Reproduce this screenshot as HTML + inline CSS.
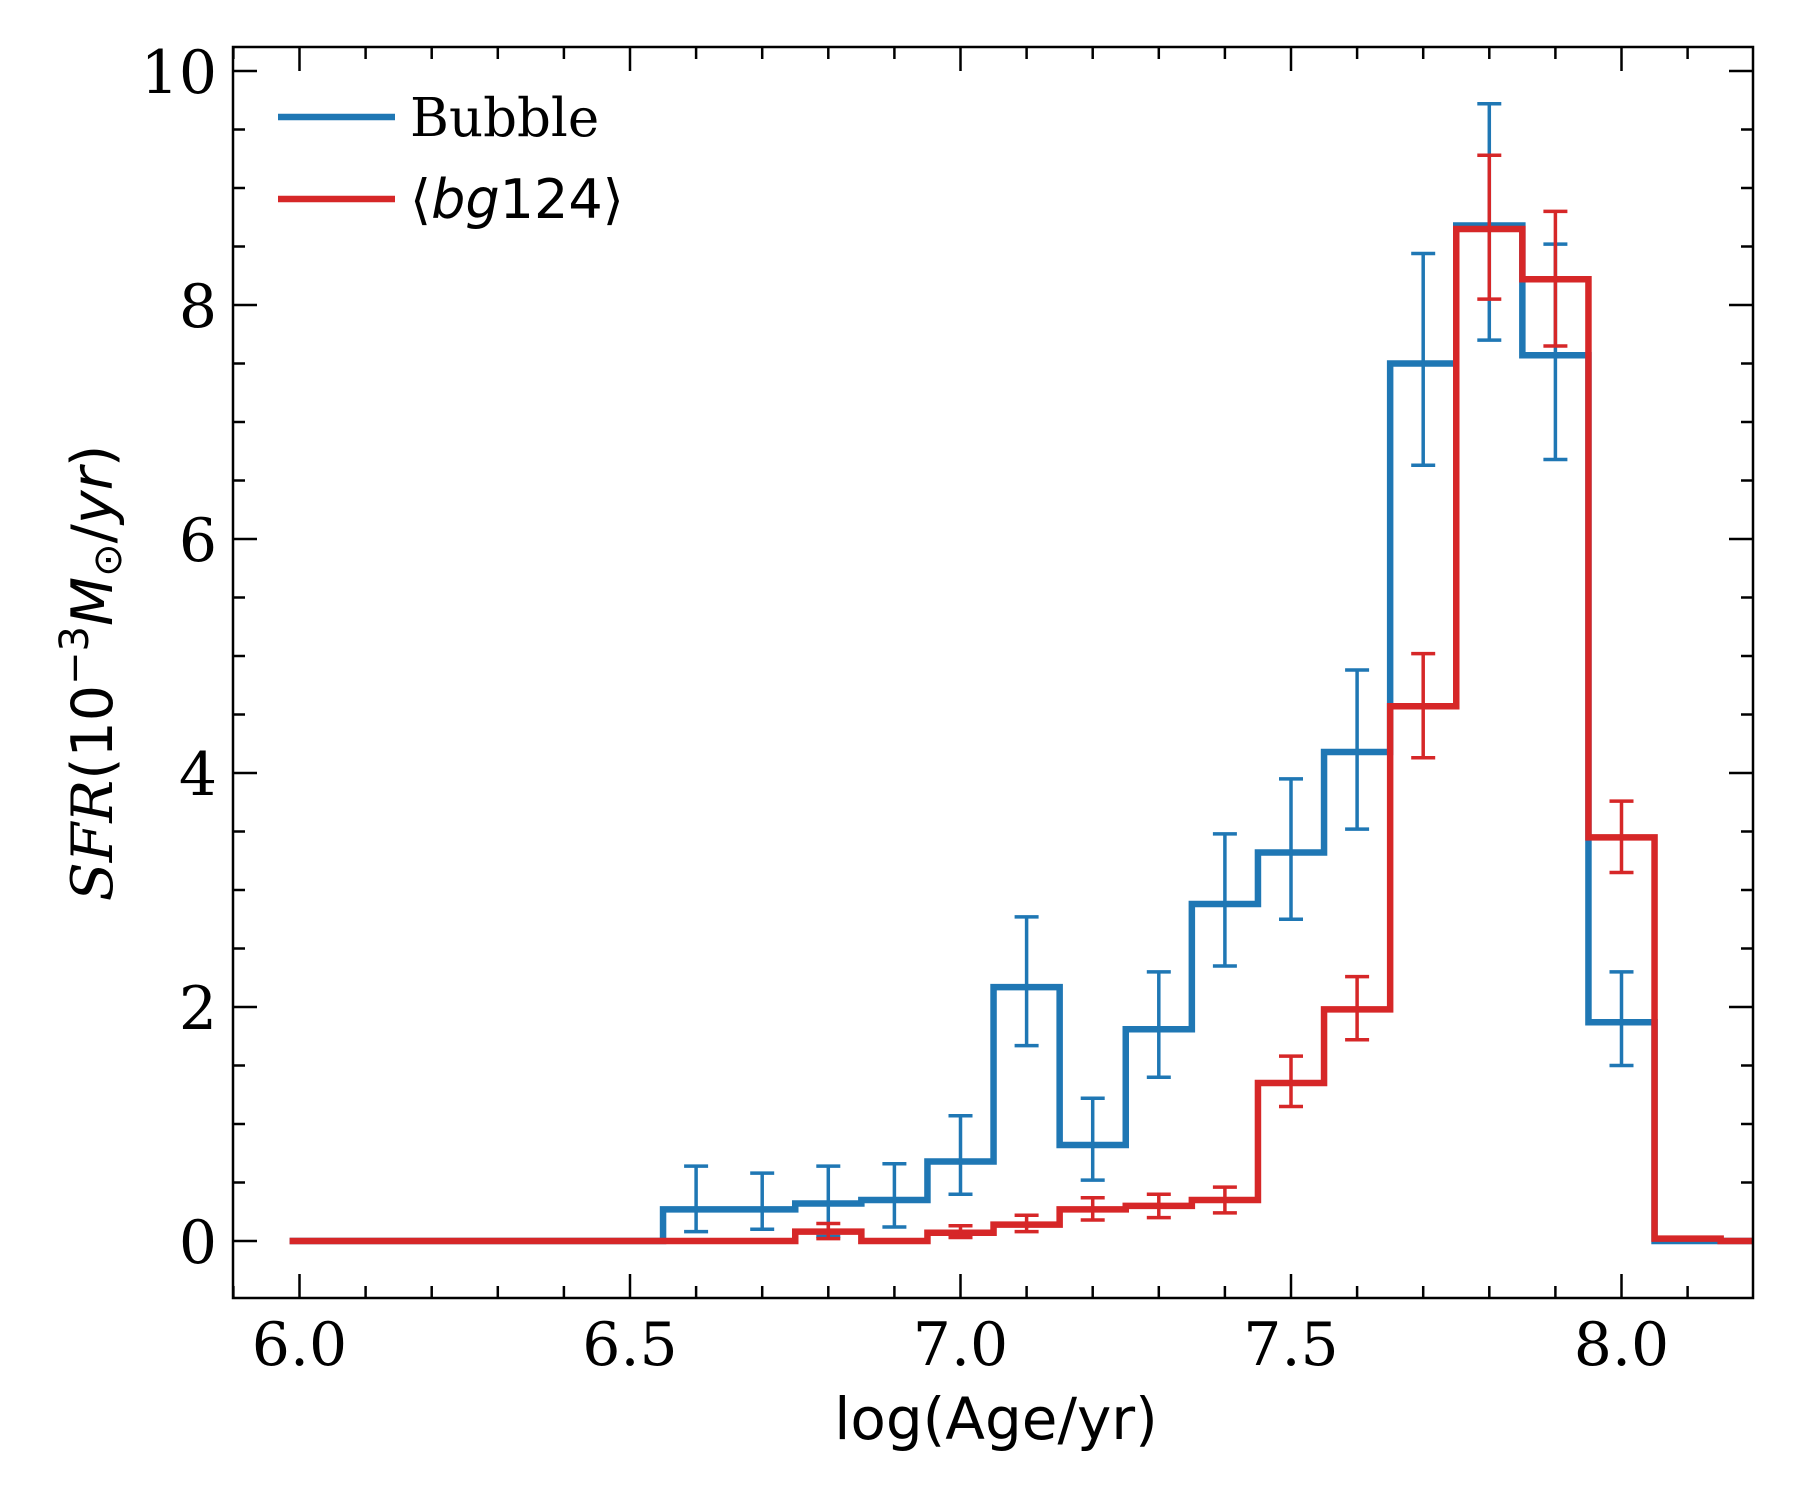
<!DOCTYPE html>
<html><head><meta charset="utf-8"><style>
html,body{margin:0;padding:0;background:#fff}
svg{display:block}
</style></head><body>
<svg id="s" width="1800" height="1500" viewBox="0 0 1800 1500" xmlns="http://www.w3.org/2000/svg">
<rect width="1800" height="1500" fill="#fff"/>
<g id="g"></g>
<rect x="233" y="47" width="1520" height="1251" fill="none" stroke="#000" stroke-width="2.5"/>
<g font-family="'DejaVu Serif','Liberation Serif',serif" font-size="60" fill="#000" text-anchor="middle">
<text x="299.5" y="1365">6.0</text><text x="630" y="1365">6.5</text><text x="960.5" y="1365">7.0</text><text x="1291" y="1365">7.5</text><text x="1621.5" y="1365">8.0</text>
</g>
<g font-family="'DejaVu Serif','Liberation Serif',serif" font-size="60" fill="#000" text-anchor="end">
<text x="217" y="1263">0</text><text x="217" y="1029">2</text><text x="217" y="795">4</text><text x="217" y="561">6</text><text x="217" y="327">8</text><text x="217" y="93">10</text>
</g>
<text x="996" y="1439" font-family="'DejaVu Sans','Liberation Sans',sans-serif" font-size="58" text-anchor="middle">log(Age/yr)</text>
<text transform="translate(112,673) rotate(-90)" font-family="'DejaVu Sans','Liberation Sans',sans-serif" font-size="57" text-anchor="middle"><tspan font-style="italic" font-family="'DejaVu Serif',serif">SFR</tspan>(10<tspan dy="-24" font-size="40">−3</tspan><tspan dy="24" font-style="italic">M</tspan><tspan dy="9" font-size="40">⊙</tspan><tspan dy="-9">/</tspan><tspan font-style="italic">yr</tspan>)</text>
<line x1="278" y1="117" x2="395" y2="117" stroke="#1f77b4" stroke-width="6.5"/>
<line x1="278" y1="199" x2="395" y2="199" stroke="#d62728" stroke-width="6.5"/>
<text x="410" y="136" font-family="'DejaVu Serif','Liberation Serif',serif" font-size="53">Bubble</text>
<text x="410" y="218" font-family="'DejaVu Sans','Liberation Sans',sans-serif" font-size="54">⟨<tspan font-style="italic">bg</tspan>124⟩</text>
</svg>
<script>
const X=v=>299.5+(v-6)*661, Y=v=>1241-v*117;
const g=document.getElementById('g');let h='';
for(let i=0;i<=22;i++){const v=5.9+i*0.1;if(v>8.21)break;const x=X(v);const maj=Math.abs(v*2-Math.round(v*2))<1e-6;const L=maj?24:12;
h+=`<line x1="${x}" y1="1298" x2="${x}" y2="${1298-L}" stroke="#000" stroke-width="2.5"/><line x1="${x}" y1="47" x2="${x}" y2="${47+L}" stroke="#000" stroke-width="2.5"/>`;}
for(let i=0;i<=20;i++){const v=i*0.5;const y=Y(v);const maj=i%4==0;const L=maj?24:12;
h+=`<line x1="233" y1="${y}" x2="${233+L}" y2="${y}" stroke="#000" stroke-width="2.5"/><line x1="1753" y1="${y}" x2="${1753-L}" y2="${y}" stroke="#000" stroke-width="2.5"/>`;}
function series(vals,start,color,errs){
 let d=`M${X(start)} ${Y(vals[0])}`;
 for(let i=0;i<vals.length;i++){const c=6+i*0.1;const a=Math.max(start,c-0.05),b=Math.min(8.2,c+0.05);
  d+=` L${X(a)} ${Y(vals[i])} L${X(b)} ${Y(vals[i])}`;}
 let s='';
 for(const [c,lo,hi] of errs){const x=X(c);s+=`<line x1="${x}" y1="${Y(lo)}" x2="${x}" y2="${Y(hi)}" stroke="${color}" stroke-width="3.5"/><line x1="${x-12}" y1="${Y(lo)}" x2="${x+12}" y2="${Y(lo)}" stroke="${color}" stroke-width="3.5"/><line x1="${x-12}" y1="${Y(hi)}" x2="${x+12}" y2="${Y(hi)}" stroke="${color}" stroke-width="3.5"/>`;}
 return `<path d="${d}" fill="none" stroke="${color}" stroke-width="6.5" stroke-linejoin="miter"/>`+s;}
const blue=[0,0,0,0,0,0,0.27,0.27,0.32,0.35,0.68,2.17,0.82,1.81,2.88,3.32,4.18,7.5,8.68,7.57,1.87,0,0];
const red=[0,0,0,0,0,0,0,0,0.08,0,0.07,0.14,0.27,0.3,0.35,1.35,1.98,4.57,8.65,8.22,3.45,0.02,0];
const be=[[6.6,0.08,0.64],[6.7,0.1,0.58],[6.8,0.04,0.64],[6.9,0.12,0.66],[7.0,0.4,1.07],[7.1,1.67,2.77],[7.2,0.52,1.22],[7.3,1.4,2.3],[7.4,2.35,3.48],[7.5,2.75,3.95],[7.6,3.52,4.88],[7.7,6.63,8.44],[7.8,7.7,9.72],[7.9,6.68,8.52],[8.0,1.5,2.3]];
const re=[[6.8,0.02,0.15],[7.0,0.03,0.13],[7.1,0.08,0.22],[7.2,0.18,0.37],[7.3,0.2,0.4],[7.4,0.24,0.46],[7.5,1.15,1.58],[7.6,1.72,2.26],[7.7,4.13,5.02],[7.8,8.05,9.28],[7.9,7.65,8.8],[8.0,3.15,3.76]];
h+=series(blue,5.985,'#1f77b4',be);
h+=series(red,5.985,'#d62728',re);
g.innerHTML=h;
</script>
</body></html>
